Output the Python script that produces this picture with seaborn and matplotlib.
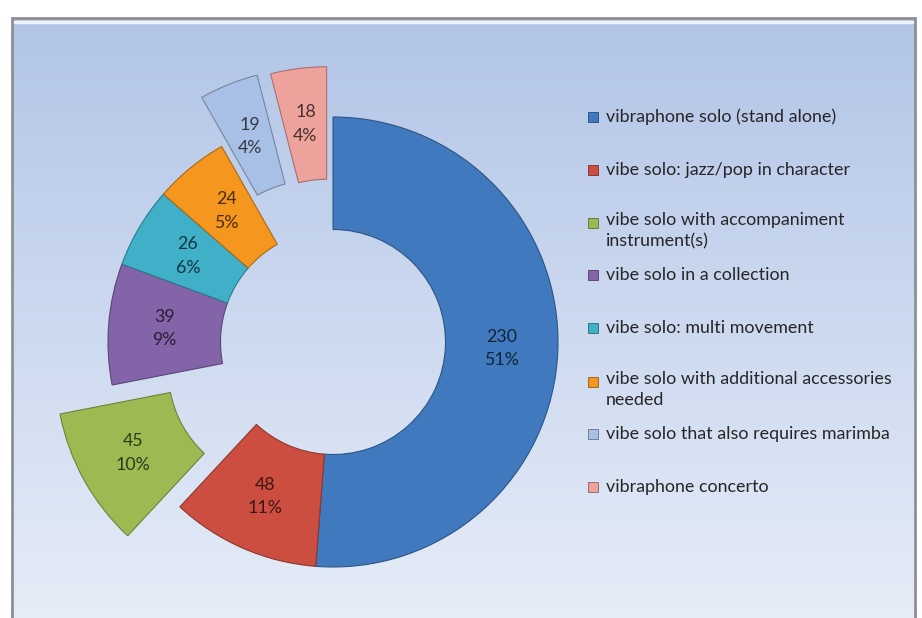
import numpy as np
import matplotlib
matplotlib.use("Agg")
import matplotlib.pyplot as plt
import matplotlib.colors as mcolors
from matplotlib.patches import Rectangle
import seaborn as sns

categories = [
    "vibraphone solo (stand alone)",
    "vibe solo: jazz/pop in character",
    "vibe solo with accompaniment\ninstrument(s)",
    "vibe solo in a collection",
    "vibe solo: multi movement",
    "vibe solo with additional accessories\nneeded",
    "vibe solo that also requires marimba",
    "vibraphone concerto",
]
values = [230, 48, 45, 39, 26, 24, 19, 18]
explode = [0, 0, 0.265, 0, 0, 0, 0.235, 0.225]
colors = ["#4079bd", "#cc4e40", "#9bbb52", "#8464a8", "#3fb0c8", "#f5961e", "#a9c0e6", "#eea29c"]

sns.set_theme(style="white")
plt.rcParams["font.family"] = ["Lato", "DejaVu Sans"]
palette = sns.color_palette(colors)

W, H = 922, 618
R = 225.0
cx, cy = 333.0, 342.0
fig = plt.figure(figsize=(W / 100, H / 100), dpi=100)
ax = fig.add_axes([0, 0, 1, 1])

# pixel -> data helpers (data unit = pie radius)
def px(x):
    return (x - cx) / R

def py(y):
    return (cy - y) / R

# background gradient frame
top = np.array(mcolors.to_rgb("#b2c5e7"))
bot = np.array(mcolors.to_rgb("#e8eef8"))
t = np.linspace(0, 1, 256)[:, None]
grad = (top[None, :] * (1 - t) + bot[None, :] * t)[:, None, :]
ax.imshow(grad, extent=[px(12), px(915), py(640), py(18)], aspect="auto", zorder=0,
          interpolation="bilinear")
ax.add_patch(Rectangle((px(12), py(640)), px(915) - px(12), py(18) - py(640),
                       fill=False, edgecolor="#8c8f96", linewidth=2.0, zorder=1))
ax.plot([px(15), px(912)], [py(22), py(22)], color="white", lw=2.5, alpha=0.8, zorder=1)

total = sum(values)

def fmt(pct):
    v = int(round(pct * total / 100.0))
    return f"{v}\n{pct:.0f}%"

wedges, texts, autotexts = ax.pie(
    values, explode=explode, colors=palette, startangle=90, counterclock=False,
    radius=1.0, autopct=fmt, pctdistance=0.75,
    wedgeprops=dict(width=0.5, linewidth=0.8),
    textprops=dict(fontsize=12.8, linespacing=1.6),
)
for w, c in zip(wedges, colors):
    w.set_zorder(3)
    w.set_edgecolor(np.array(mcolors.to_rgb(c)) * 0.7)
for at, c in zip(autotexts, colors):
    rgb = np.array(mcolors.to_rgb(c)) * 0.3
    at.set_color(rgb)
    at.set_zorder(4)

ax.set_xlim(px(0), px(W))
ax.set_ylim(py(H), py(0))
ax.set_aspect("auto")
ax.axis("off")

# legend
ys = [117, 170, 223, 275, 328, 382, 434, 487]
for lab, c, y in zip(categories, colors, ys):
    ax.add_patch(Rectangle((px(588), py(y + 5)), 10 / R, 10 / R, facecolor=c,
                           edgecolor=np.array(mcolors.to_rgb(c)) * 0.6,
                           linewidth=0.6, zorder=5))
    if "\n" in lab:
        ax.text(px(606), py(y - 11), lab, fontsize=12.9, color="#262626", va="top",
                ha="left", zorder=5, linespacing=1.38)
    else:
        ax.text(px(606), py(y), lab, fontsize=12.9, color="#262626", va="center",
                ha="left", zorder=5)

fig.savefig("out.png", dpi=100, facecolor="white")
